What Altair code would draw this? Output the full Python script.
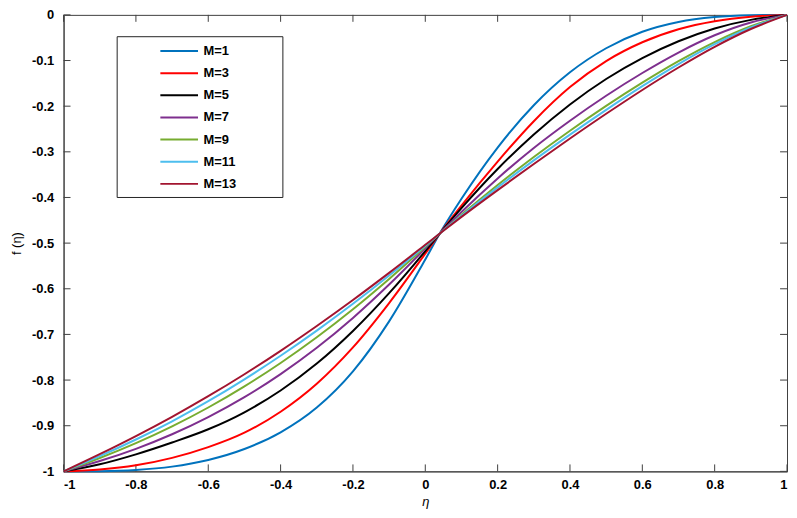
import altair as alt
import pandas as pd

eta = [-1, -0.9, -0.8, -0.7, -0.6, -0.5, -0.4, -0.3, -0.2, -0.1, 0, 0.04,
       0.1, 0.2, 0.3, 0.4, 0.5, 0.6, 0.7, 0.8, 0.9, 1]

f_M1 = [-1, -0.9995, -0.9969, -0.9896, -0.975, -0.951, -0.9145, -0.8602, -0.7809, -0.6714, -0.5358, -0.479,
        -0.4029, -0.2907, -0.198, -0.1258, -0.0731, -0.037, -0.0155, -0.0048, -0.0009, 0]
f_M3 = [-1, -0.9959, -0.9867, -0.9704, -0.9469, -0.9152, -0.8693, -0.808, -0.7284, -0.6313, -0.5231, -0.479,
        -0.4177, -0.3214, -0.2329, -0.1582, -0.1012, -0.06, -0.0315, -0.0138, -0.0039, 0]
f_M5 = [-1, -0.9845, -0.9627, -0.9368, -0.9078, -0.8706, -0.8229, -0.7639, -0.6925, -0.6097, -0.5175, -0.479,
        -0.4234, -0.3377, -0.262, -0.1962, -0.1404, -0.0946, -0.0577, -0.0298, -0.0109, 0]
f_M7 = [-1, -0.9774, -0.9506, -0.9187, -0.8811, -0.8374, -0.7869, -0.7293, -0.6639, -0.5908, -0.5115, -0.479,
        -0.4318, -0.3582, -0.2915, -0.2318, -0.1771, -0.1273, -0.0825, -0.0447, -0.0168, 0]
f_M9 = [-1, -0.9708, -0.9381, -0.9014, -0.8601, -0.8138, -0.7625, -0.7062, -0.6448, -0.5784, -0.5079, -0.479,
        -0.4381, -0.3728, -0.3113, -0.2537, -0.1994, -0.1485, -0.1014, -0.0596, -0.025, 0]
f_M11 = [-1, -0.9666, -0.9302, -0.8903, -0.8463, -0.7983, -0.7468, -0.6917, -0.633, -0.5709, -0.5057, -0.479,
         -0.4402, -0.3779, -0.3187, -0.2623, -0.208, -0.1561, -0.1077, -0.0642, -0.0277, 0]
f_M13 = [-1, -0.9624, -0.9228, -0.8806, -0.8354, -0.7872, -0.7359, -0.6815, -0.6246, -0.5652, -0.5037, -0.479,
         -0.4425, -0.3838, -0.3266, -0.2709, -0.2167, -0.1645, -0.1153, -0.0701, -0.031, 0]

series_names = ["M=1", "M=3", "M=5", "M=7", "M=9", "M=11", "M=13"]
series_values = [f_M1, f_M3, f_M5, f_M7, f_M9, f_M11, f_M13]
series_colors = ["#0072BD", "#FF0000", "#000000", "#7E2F8E", "#77AC30", "#4DBEEE", "#A2142F"]

x_ticks = [-1, -0.8, -0.6, -0.4, -0.2, 0, 0.2, 0.4, 0.6, 0.8, 1]
y_ticks = [0, -0.1, -0.2, -0.3, -0.4, -0.5, -0.6, -0.7, -0.8, -0.9, -1]

rows = []
for name, vals in zip(series_names, series_values):
    for x, y in zip(eta, vals):
        rows.append({"eta": x, "f": y, "M": name})
df = pd.DataFrame(rows)

W, H = 729, 460
FONT = "Liberation Sans"
AX = "#404040"
lab = "replace(format(datum.value, '~g'), '\u2212', '-')"

xscale = alt.Scale(domain=[-1, 1], nice=False, zero=False)
yscale = alt.Scale(domain=[-1, 0], nice=False, zero=False)

# legend frame (drawn behind the curves and legend entries)
frame = alt.Chart(pd.DataFrame({"k": [0]})).mark_rect(
    fill="white", stroke="#222", strokeWidth=1).encode(
    x=alt.value(54), x2=alt.value(221), y=alt.value(22), y2=alt.value(184))

lines = alt.Chart(df).mark_line(strokeWidth=2, interpolate="monotone").encode(
    x=alt.X("eta:Q", scale=xscale,
            axis=alt.Axis(values=x_ticks, labelExpr=lab, ticks=False, grid=False,
                          labelPadding=7, labelFont=FONT, labelFontWeight="bold",
                          labelFontSize=13, labelColor="#000", domainColor=AX,
                          title="η", titleFont=FONT, titleFontStyle="italic",
                          titleFontWeight="normal", titleFontSize=13, titleColor="#000",
                          titleY=30, titleBaseline="middle")),
    y=alt.Y("f:Q", scale=yscale,
            axis=alt.Axis(values=y_ticks, labelExpr=lab, ticks=False, grid=False,
                          labelPadding=10, labelFont=FONT, labelFontWeight="bold",
                          labelFontSize=13, labelColor="#000", domainColor=AX,
                          title="f (η)", titleFont=FONT, titleFontWeight="normal",
                          titleFontSize=13, titleColor="#000", titleX=-47,
                          titleY=H / 2, titleBaseline="middle", titleAlign="center")),
    color=alt.Color("M:N", sort=series_names,
                    scale=alt.Scale(domain=series_names, range=series_colors),
                    legend=alt.Legend(title=None, orient="none", legendX=54, legendY=22,
                                      symbolType="M-3,0H3", symbolStrokeWidth=2,
                                      symbolSize=160, symbolOffset=48,
                                      symbolFillColor="transparent",
                                      labelFont=FONT, labelFontWeight="bold",
                                      labelFontSize=13, labelColor="#000",
                                      labelOffset=17, rowPadding=7.3, padding=7)),
)

xt = pd.DataFrame({"t": x_ticks})
yt = pd.DataFrame({"t": y_ticks})
tick_style = dict(color=AX, strokeWidth=1)

xb = alt.Chart(xt).mark_rule(**tick_style).encode(
    x=alt.X("t:Q", scale=xscale), y=alt.value(H), y2=alt.value(H - 7))
xtp = alt.Chart(xt).mark_rule(**tick_style).encode(
    x=alt.X("t:Q", scale=xscale), y=alt.value(0), y2=alt.value(7))
yl = alt.Chart(yt).mark_rule(**tick_style).encode(
    y=alt.Y("t:Q", scale=yscale), x=alt.value(0), x2=alt.value(7))
yr = alt.Chart(yt).mark_rule(**tick_style).encode(
    y=alt.Y("t:Q", scale=yscale), x=alt.value(W), x2=alt.value(W - 7))

chart = alt.layer(frame, xb, xtp, yl, yr, lines).properties(
    width=W, height=H,
    autosize=alt.AutoSizeParams(type="none"),
    padding={"left": 56, "top": 5, "right": 2, "bottom": 37},
    background="white",
).configure_view(stroke=AX, strokeWidth=1)

chart.save("out.html", embed_options={"renderer": "svg", "actions": False})
